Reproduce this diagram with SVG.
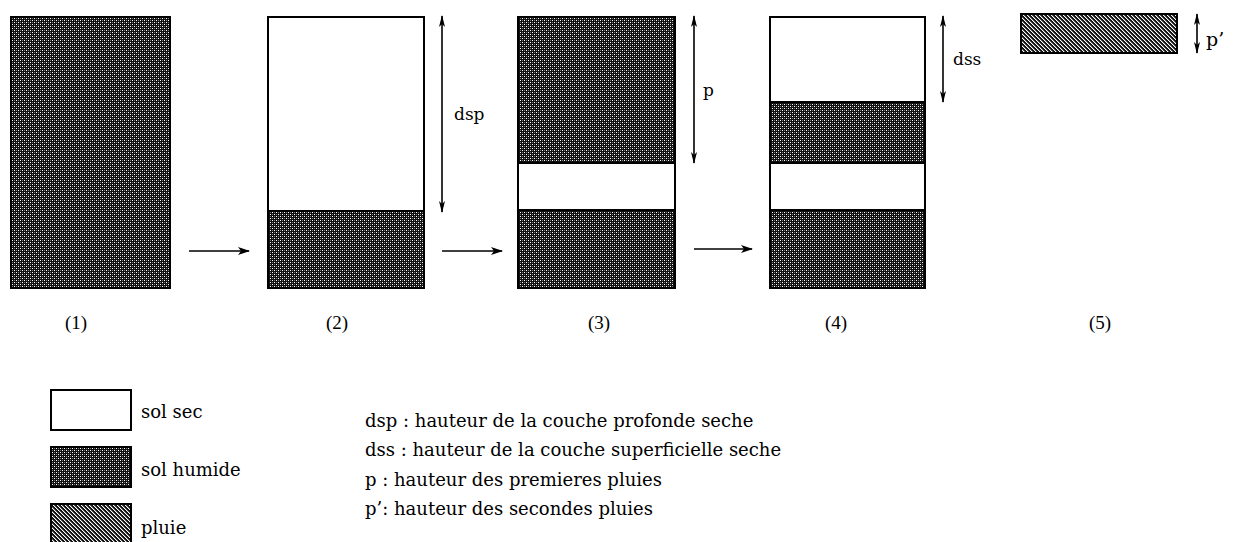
<svg xmlns="http://www.w3.org/2000/svg" width="1239" height="542" viewBox="0 0 1239 542">
<style>
.t{font-family:"DejaVu Serif","Liberation Serif",serif;font-size:18px;fill:#000}
.lb{font-family:"DejaVu Serif","Liberation Serif",serif;font-size:17px;fill:#000}
.n{font-family:"Liberation Serif",serif;font-size:19px;fill:#000}
.box{stroke:#000;stroke-width:2}
.hum{fill:url(#humide)}
.plu{fill:url(#pluie)}
.sec{fill:#fff}
.ln{stroke:#000;stroke-width:1.6;fill:none}
</style>
<defs>
<pattern id="humide" width="4" height="4" patternUnits="userSpaceOnUse">
<rect width="4" height="4" fill="#111"/>
<rect x="0" y="0" width="1" height="1" fill="#fff"/>
<rect x="2" y="2" width="1" height="1" fill="#fff"/>
<rect x="2" y="0" width="1" height="1" fill="#777"/>
<rect x="0" y="2" width="1" height="1" fill="#777"/>
</pattern>
<pattern id="pluie" width="4" height="4" patternUnits="userSpaceOnUse">
<rect width="4" height="4" fill="#111"/>
<rect x="0" y="0" width="1" height="1" fill="#fff"/>
<rect x="1" y="1" width="1" height="1" fill="#fff"/>
<rect x="2" y="2" width="1" height="1" fill="#fff"/>
<rect x="3" y="3" width="1" height="1" fill="#fff"/>
<rect x="1" y="0" width="1" height="1" fill="#666"/>
<rect x="2" y="1" width="1" height="1" fill="#666"/>
<rect x="3" y="2" width="1" height="1" fill="#666"/>
<rect x="0" y="3" width="1" height="1" fill="#666"/>
</pattern>
<marker id="ah" viewBox="0 0 12 8" refX="11" refY="4" markerWidth="12" markerHeight="8" markerUnits="userSpaceOnUse" orient="auto">
<path d="M0,0 L12,4 L0,8 L3,4 Z" fill="#000"/>
</marker>
<marker id="dh" viewBox="0 0 12 6" refX="11" refY="3" markerWidth="12" markerHeight="6" markerUnits="userSpaceOnUse" orient="auto-start-reverse">
<path d="M0,0 L12,3 L0,6 L3,3 Z" fill="#000"/>
</marker>
</defs>

<g id="step1">
<rect class="box hum" x="11" y="17" width="159" height="271"/>
<text class="n" x="76" y="329" text-anchor="middle">(1)</text>
</g>

<g id="step2">
<rect class="sec" x="268" y="17" width="156" height="194"/>
<rect class="hum" x="268" y="211" width="156" height="77"/>
<rect class="box" fill="none" x="268" y="17" width="156" height="271"/>
<line class="box" x1="268" y1="211" x2="424" y2="211"/>
<text class="n" x="337" y="329" text-anchor="middle">(2)</text>
</g>

<g id="step3">
<rect class="hum" x="518" y="17" width="157" height="146"/>
<rect class="sec" x="518" y="163" width="157" height="47"/>
<rect class="hum" x="518" y="210" width="157" height="78"/>
<rect class="box" fill="none" x="518" y="17" width="157" height="271"/>
<line class="box" x1="518" y1="163" x2="675" y2="163"/>
<line class="box" x1="518" y1="210" x2="675" y2="210"/>
<text class="n" x="599" y="329" text-anchor="middle">(3)</text>
</g>

<g id="step4">
<rect class="sec" x="770" y="17" width="155" height="85"/>
<rect class="hum" x="770" y="102" width="155" height="61"/>
<rect class="sec" x="770" y="163" width="155" height="47"/>
<rect class="hum" x="770" y="210" width="155" height="78"/>
<rect class="box" fill="none" x="770" y="17" width="155" height="271"/>
<line class="box" x1="770" y1="102" x2="925" y2="102"/>
<line class="box" x1="770" y1="163" x2="925" y2="163"/>
<line class="box" x1="770" y1="210" x2="925" y2="210"/>
<text class="n" x="836" y="329" text-anchor="middle">(4)</text>
</g>

<g id="step5">
<rect class="box plu" x="1021" y="14" width="156" height="39"/>
<text class="n" x="1100" y="329" text-anchor="middle">(5)</text>
</g>

<g id="dims">
<line class="ln" x1="442" y1="16" x2="442" y2="212" marker-start="url(#dh)" marker-end="url(#dh)"/>
<text class="lb" x="454" y="120">dsp</text>
<line class="ln" x1="694" y1="16" x2="694" y2="163" marker-start="url(#dh)" marker-end="url(#dh)"/>
<text class="lb" x="703" y="96">p</text>
<line class="ln" x1="943" y1="16" x2="943" y2="102" marker-start="url(#dh)" marker-end="url(#dh)"/>
<text class="lb" x="953" y="65">dss</text>
<line class="ln" x1="1197" y1="14" x2="1197" y2="53" marker-start="url(#dh)" marker-end="url(#dh)"/>
<text class="lb" x="1206" y="46" style="font-size:19px">p’</text>
</g>

<g id="connectors">
<line class="ln" x1="189" y1="251" x2="249" y2="251" marker-end="url(#ah)"/>
<line class="ln" x1="442" y1="251" x2="502" y2="251" marker-end="url(#ah)"/>
<line class="ln" x1="694" y1="249" x2="752" y2="249" marker-end="url(#ah)"/>
</g>

<g id="legend">
<rect class="box sec" x="51" y="390" width="80" height="40"/>
<text class="t" x="141" y="418">sol sec</text>
<rect class="box hum" x="51" y="447" width="80" height="40"/>
<text class="t" x="141" y="476">sol humide</text>
<rect class="box plu" x="51" y="504" width="80" height="40"/>
<text class="t" x="141" y="534">pluie</text>
</g>

<g id="definitions">
<text class="t" x="365" y="427">dsp : hauteur de la couche profonde seche</text>
<text class="t" x="365" y="456">dss : hauteur de la couche superficielle seche</text>
<text class="t" x="365" y="486">p : hauteur des premieres pluies</text>
<text class="t" x="365" y="515">p’: hauteur des secondes pluies</text>
</g>
</svg>
